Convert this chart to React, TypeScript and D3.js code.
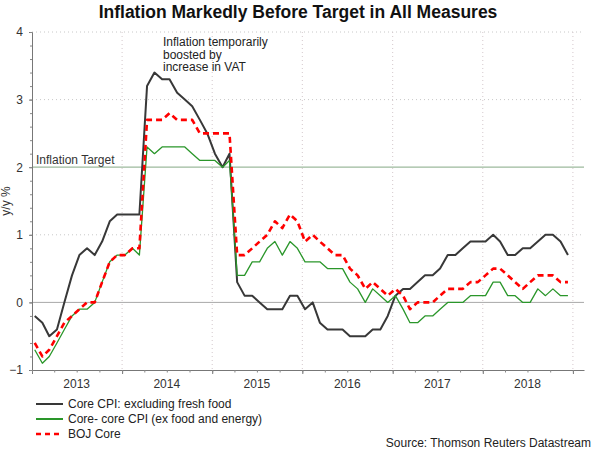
import { useEffect, useRef } from "react";
import * as d3 from "d3";

// monthly y/y %, Jan 2013 .. Dec 2018
const coreCpi = [
  -0.2, -0.3, -0.5, -0.4, 0.0, 0.4, 0.7, 0.8, 0.7, 0.9, 1.2, 1.3,
  1.3, 1.3, 1.3, 3.2, 3.4, 3.3, 3.3, 3.1, 3.0, 2.9, 2.7, 2.5,
  2.2, 2.0, 2.2, 0.3, 0.1, 0.1, 0.0, -0.1, -0.1, -0.1, 0.1, 0.1,
  -0.1, 0.0, -0.3, -0.4, -0.4, -0.4, -0.5, -0.5, -0.5, -0.4, -0.4, -0.2,
  0.1, 0.2, 0.2, 0.3, 0.4, 0.4, 0.5, 0.7, 0.7, 0.8, 0.9, 0.9,
  0.9, 1.0, 0.9, 0.7, 0.7, 0.8, 0.8, 0.9, 1.0, 1.0, 0.9, 0.7,
];
const coreCoreCpi = [
  -0.7, -0.9, -0.8, -0.6, -0.4, -0.2, -0.1, -0.1, 0.0, 0.3, 0.6, 0.7,
  0.7, 0.8, 0.7, 2.3, 2.2, 2.3, 2.3, 2.3, 2.3, 2.2, 2.1, 2.1,
  2.1, 2.0, 2.1, 0.4, 0.4, 0.6, 0.6, 0.8, 0.9, 0.7, 0.9, 0.8,
  0.6, 0.6, 0.6, 0.5, 0.5, 0.5, 0.3, 0.2, 0.0, 0.2, 0.1, 0.0,
  0.1, -0.1, -0.3, -0.3, -0.2, -0.2, -0.1, 0.0, 0.0, 0.0, 0.1, 0.1,
  0.1, 0.3, 0.3, 0.1, 0.1, 0.0, 0.0, 0.2, 0.1, 0.2, 0.1, 0.1,
];
const bojCore = [
  -0.6, -0.8, -0.7, -0.5, -0.3, -0.2, -0.1, 0.0, 0.0, 0.3, 0.6, 0.7,
  0.7, 0.8, 0.8, 2.7, 2.7, 2.7, 2.8, 2.7, 2.7, 2.7, 2.5, 2.5,
  2.5, 2.5, 2.5, 0.7, 0.7, 0.8, 0.9, 1.0, 1.2, 1.1, 1.3, 1.2,
  0.9, 1.0, 0.9, 0.8, 0.7, 0.7, 0.5, 0.4, 0.2, 0.3, 0.2, 0.1,
  0.2, 0.1, -0.1, 0.0, 0.0, 0.0, 0.1, 0.2, 0.2, 0.2, 0.3, 0.3,
  0.4, 0.5, 0.5, 0.4, 0.3, 0.2, 0.3, 0.4, 0.4, 0.4, 0.3, 0.3,
];

const years = [2013, 2014, 2015, 2016, 2017, 2018];
const yTicks = [-1, 0, 1, 2, 3, 4];
const gridValues = [1, 3, 4];
const targetValue = 2;

const seriesDefs = [
  { name: "Core CPI: excluding fresh food", values: coreCpi, color: "#383838", width: 2, dash: null },
  { name: "Core- core CPI (ex food and energy)", values: coreCoreCpi, color: "#2a962a", width: 1.3, dash: null },
  { name: "BOJ Core", values: bojCore, color: "#ff0000", width: 2.6, dash: "6,4" },
];

const FONT = "'Liberation Sans', Arial, sans-serif";

export default function App() {
  const svgRef = useRef<SVGSVGElement | null>(null);

  useEffect(() => {
    if (!svgRef.current) return;
    const svg = d3.select(svgRef.current);
    svg.selectAll("*").remove();

    const width = 600;
    const height = 452;
    const left = 32;
    const right = 584;
    const top = 32;
    const bottom = 370;

    const x = d3
      .scaleTime()
      .domain([new Date(2013, 0, 1), new Date(2019, 1, 15)])
      .range([left, right]);
    const y = d3.scaleLinear().domain([-1, 4]).range([bottom, top]);

    svg.attr("viewBox", `0 0 ${width} ${height}`);
    svg.append("rect").attr("width", width).attr("height", height).attr("fill", "#fff");

    // title
    svg
      .append("text")
      .attr("x", 298)
      .attr("y", 18)
      .attr("text-anchor", "middle")
      .attr("font-family", FONT)
      .attr("font-weight", "bold")
      .attr("font-size", 17.5)
      .attr("fill", "#111")
      .text("Inflation Markedly Before Target in All Measures");

    // grid
    const grid = svg.append("g");
    grid
      .selectAll("line.h")
      .data(gridValues)
      .join("line")
      .attr("x1", left)
      .attr("x2", right)
      .attr("y1", (d) => y(d))
      .attr("y2", (d) => y(d))
      .attr("stroke", "#c8c8c8")
      .attr("stroke-dasharray", "1,3");
    const yearBounds = years.map((yr) => new Date(yr + 1, 0, 1));
    grid
      .selectAll("line.v")
      .data(yearBounds)
      .join("line")
      .attr("x1", (d) => x(d))
      .attr("x2", (d) => x(d))
      .attr("y1", top)
      .attr("y2", bottom)
      .attr("stroke", "#d4c8cc")
      .attr("stroke-dasharray", "1,3");

    // zero and target lines
    svg
      .append("line")
      .attr("x1", left)
      .attr("x2", right)
      .attr("y1", y(0))
      .attr("y2", y(0))
      .attr("stroke", "#a8a8a8");
    svg
      .append("line")
      .attr("x1", left)
      .attr("x2", right)
      .attr("y1", y(targetValue))
      .attr("y2", y(targetValue))
      .attr("stroke", "#9dba9d")
      .attr("stroke-width", 1.3);
    svg
      .append("text")
      .attr("x", 36)
      .attr("y", y(targetValue) - 3)
      .attr("font-family", FONT)
      .attr("font-size", 12)
      .attr("fill", "#333")
      .text("Inflation Target");

    // y axis
    const yAxis = svg.append("g").attr("transform", `translate(${left},0)`);
    yAxis
      .call(d3.axisLeft(y).tickValues(yTicks).tickSize(3).tickPadding(6).tickFormat(d3.format("d")))
      .call((g) => g.selectAll("line,path").attr("stroke", "#777"))
      .call((g) =>
        g.selectAll("text").attr("fill", "#333").attr("font-size", 12).attr("font-family", FONT),
      );
    svg
      .append("g")
      .attr("transform", `translate(${left},0)`)
      .call(d3.axisLeft(y).tickValues(d3.range(-10, 41, 2).map((v) => v / 10)).tickSize(2).tickFormat(() => ""))
      .call((g) => g.select("path").remove())
      .call((g) => g.selectAll("line").attr("stroke", "#888"));

    // x axis
    svg
      .append("g")
      .attr("transform", `translate(0,${bottom})`)
      .call(
        d3
          .axisBottom(x)
          .tickValues([new Date(2013, 0, 1), ...yearBounds])
          .tickSize(4)
          .tickSizeOuter(0)
          .tickFormat(() => ""),
      )
      .call((g) => g.selectAll("line,path").attr("stroke", "#777"));
    svg
      .append("g")
      .attr("transform", `translate(0,${bottom})`)
      .call(
        d3
          .axisBottom(x)
          .tickValues(d3.timeMonth.every(3)!.range(new Date(2013, 0, 1), new Date(2019, 0, 2)))
          .tickSize(2.5)
          .tickFormat(() => ""),
      )
      .call((g) => g.select("path").remove())
      .call((g) => g.selectAll("line").attr("stroke", "#888"));
    svg
      .append("g")
      .selectAll("text")
      .data(years)
      .join("text")
      .attr("x", (d) => x(new Date(d, 6, 1)))
      .attr("y", 388)
      .attr("text-anchor", "middle")
      .attr("font-family", FONT)
      .attr("font-size", 12)
      .attr("fill", "#333")
      .text((d) => String(d));

    // y label
    svg
      .append("text")
      .attr("transform", `translate(10,${(top + bottom) / 2}) rotate(-90)`)
      .attr("text-anchor", "middle")
      .attr("font-family", FONT)
      .attr("font-size", 12)
      .attr("fill", "#333")
      .text("y/y %");

    // series
    const months = coreCpi.map((_, i) => new Date(2013, i, 12));
    const line = d3
      .line<number>()
      .x((_, i) => x(months[i]))
      .y((d) => y(d));
    svg
      .append("g")
      .selectAll("path")
      .data(seriesDefs)
      .join("path")
      .attr("d", (d) => line(d.values))
      .attr("fill", "none")
      .attr("stroke", (d) => d.color)
      .attr("stroke-width", (d) => d.width)
      .attr("stroke-dasharray", (d) => d.dash)
      .attr("stroke-linejoin", "round");

    // annotation
    const note = svg
      .append("text")
      .attr("font-family", FONT)
      .attr("font-size", 12)
      .attr("fill", "#222");
    ["Inflation temporarily", "boosted by", "increase in VAT"].forEach((t, i) => {
      note.append("tspan").attr("x", 163).attr("y", 46 + i * 12.5).text(t);
    });

    // legend
    const legend = svg
      .append("g")
      .selectAll("g")
      .data(seriesDefs)
      .join("g")
      .attr("transform", (_, i) => `translate(0,${404 + i * 15})`);
    legend
      .append("line")
      .attr("x1", 36)
      .attr("x2", 63)
      .attr("stroke", (d) => d.color)
      .attr("stroke-width", (d) => (d.dash ? 2.4 : 2))
      .attr("stroke-dasharray", (d) => (d.dash ? "5,4" : null));
    legend
      .append("text")
      .attr("x", 68)
      .attr("y", 4)
      .attr("font-family", FONT)
      .attr("font-size", 12)
      .attr("fill", "#222")
      .text((d) => d.name);

    svg
      .append("text")
      .attr("x", 591)
      .attr("y", 447)
      .attr("text-anchor", "end")
      .attr("font-family", FONT)
      .attr("font-size", 12)
      .attr("fill", "#222")
      .text("Source: Thomson Reuters Datastream");
  }, []);

  return (
    <svg
      ref={svgRef}
      width={600}
      height={452}
      style={{ position: "absolute", left: 0, top: 0, display: "block" }}
    />
  );
}
